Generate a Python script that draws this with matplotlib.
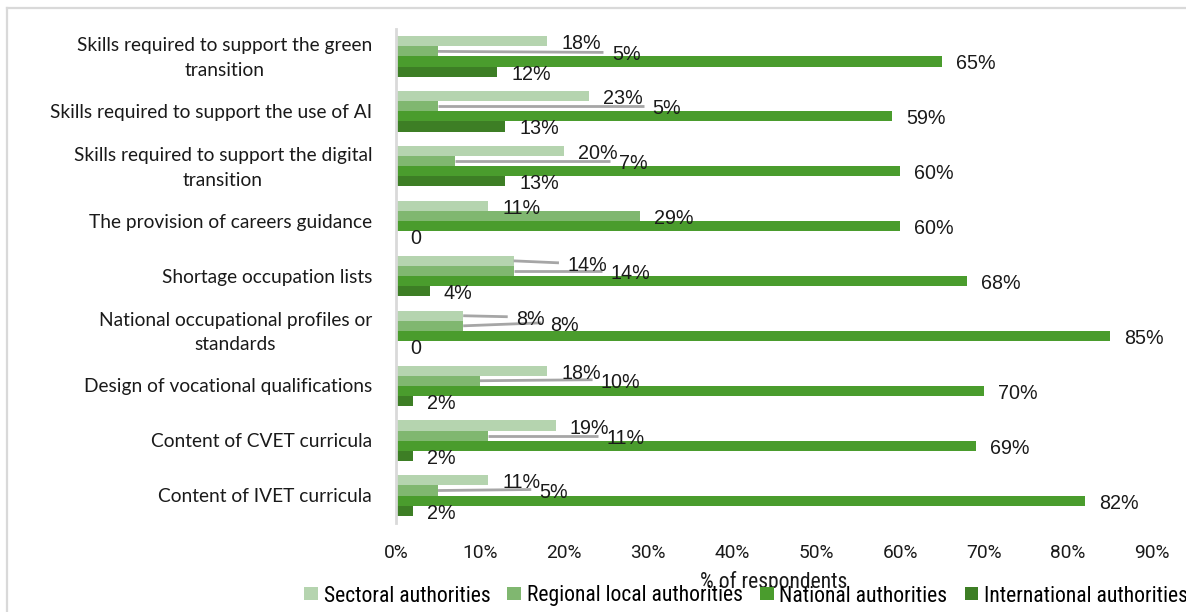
import matplotlib
matplotlib.use("Agg")
import matplotlib.pyplot as plt
import matplotlib.transforms as mtransforms
from matplotlib.lines import Line2D
from matplotlib.patches import Patch
from matplotlib.font_manager import FontProperties

categories = [
    "Skills required to support the green\ntransition",
    "Skills required to support the use of AI",
    "Skills required to support the digital\ntransition",
    "The provision of careers guidance",
    "Shortage occupation lists",
    "National occupational profiles or\nstandards",
    "Design of vocational qualifications",
    "Content of CVET curricula",
    "Content of IVET curricula",
]
series_names = [
    "Sectoral authorities",
    "Regional local authorities",
    "National authorities",
    "International authorities",
]
sectoral = [18, 23, 20, 11, 14, 8, 18, 19, 11]
regional = [5, 5, 7, 29, 14, 8, 10, 11, 5]
national = [65, 59, 60, 60, 68, 85, 70, 69, 82]
international = [12, 13, 13, 0, 4, 0, 2, 2, 2]
x_ticks = [0, 10, 20, 30, 40, 50, 60, 70, 80, 90]

series = [sectoral, regional, national, international]
colors = ["#b5d4af", "#80b770", "#4a9c2d", "#3d7e25"]

# labels that were moved off their bar end: (category, series) -> (label x in %, dy in px)
moved_labels = {
    (0, 1): (25.7, 1),
    (1, 1): (30.5, 0),
    (2, 1): (26.5, 0),
    (4, 0): (20.4, 2),
    (4, 1): (25.5, 0),
    (5, 0): (14.3, 1),
    (5, 1): (18.3, -3),
    (6, 1): (24.4, -1),
    (7, 1): (25.0, 0),
    (8, 1): (17.1, -1),
}

W, H = 1186, 612
fig = plt.figure(figsize=(W / 100, H / 100), dpi=100)
fig.patch.set_facecolor("white")

left, right, top, bottom = 396, 1152, 29, 523
ax = fig.add_axes([left / W, 1 - bottom / H, (right - left) / W, (bottom - top) / H])

bar_h = 0.184
n_cat = len(categories)
for k, vals in enumerate(series):
    ys = [i + (k - 1.5) * bar_h for i in range(n_cat)]
    ax.barh(ys, vals, height=bar_h, color=colors[k], edgecolor="none")

ax.set_xlim(0, 90)
ax.set_ylim(n_cat - 0.5, -0.5)

px_per_unit_y = (bottom - top) / n_cat
label_font = dict(family=["Liberation Sans", "DejaVu Sans"], fontsize=14.2, color="#1a1a1a")
text_drop = 2.5  # px, optical centring of the value labels

for k, vals in enumerate(series):
    for i, v in enumerate(vals):
        y_bar = i + (k - 1.5) * bar_h
        text = f"{v}%" if v > 0 else "0"
        if (i, k) in moved_labels:
            lx, dy = moved_labels[(i, k)]
            ly = y_bar + dy / px_per_unit_y
            ax.plot([v, lx - 1.0], [y_bar, ly], color="#a6a6a6", lw=2.0,
                    solid_capstyle="butt", zorder=1)
        else:
            lx = v + 1.7
            ly = y_bar
        ax.text(lx, ly + text_drop / px_per_unit_y, text, ha="left", va="center",
                zorder=3, **label_font)

# axes styling
for side in ["top", "right", "bottom"]:
    ax.spines[side].set_visible(False)
ax.spines["left"].set_color("#d9d9d9")
ax.spines["left"].set_linewidth(2.0)

# category labels, right-aligned against the axis, wrapped lines centred
ax.set_yticks(range(n_cat))
ax.set_yticklabels([])
ax.tick_params(axis="y", length=0)
for i, cat in enumerate(categories):
    lift = -1.5 if "\n" in cat else -1
    trans = ax.get_yaxis_transform() + mtransforms.ScaledTranslation(
        -24 / 100, lift / 100, fig.dpi_scale_trans)
    ax.text(0, i, cat, transform=trans, ha="right", va="center",
            multialignment="center", family=["Lato", "DejaVu Sans"],
            fontsize=13.8, color="#1a1a1a", linespacing=1.55)

tick_font = FontProperties(family=["Roboto", "DejaVu Sans"], size=13.8)
narrow_font = FontProperties(family=["Roboto Condensed", "DejaVu Sans"],
                             stretch="condensed", size=15.6)

ax.set_xticks(x_ticks)
ax.set_xticklabels([f"{t}%" for t in x_ticks], fontproperties=tick_font, color="#1a1a1a")
ax.tick_params(axis="x", length=0, pad=15)

fig.text(774 / W, 1 - 582 / H, "% of respondents", ha="center", va="center",
         fontproperties=narrow_font, color="#1a1a1a")

handles = [Patch(facecolor=c, edgecolor="none") for c in colors]
fig.legend(handles, series_names, ncol=4, loc="center",
           bbox_to_anchor=(746 / W, 1 - 596 / H), frameon=False,
           prop=narrow_font,
           handlelength=0.64, handleheight=0.55, handletextpad=0.25,
           columnspacing=0.8, borderaxespad=0, borderpad=0)

# outer chart frame
frame_kw = dict(color="#d9d9d9", lw=1.6, transform=fig.transFigure)
fig.add_artist(Line2D([7 / W, 7 / W], [0, 1 - 8 / H], **frame_kw))
fig.add_artist(Line2D([7 / W, 1], [1 - 8 / H, 1 - 8 / H], **frame_kw))

fig.savefig("out.png", dpi=100, facecolor="white")
